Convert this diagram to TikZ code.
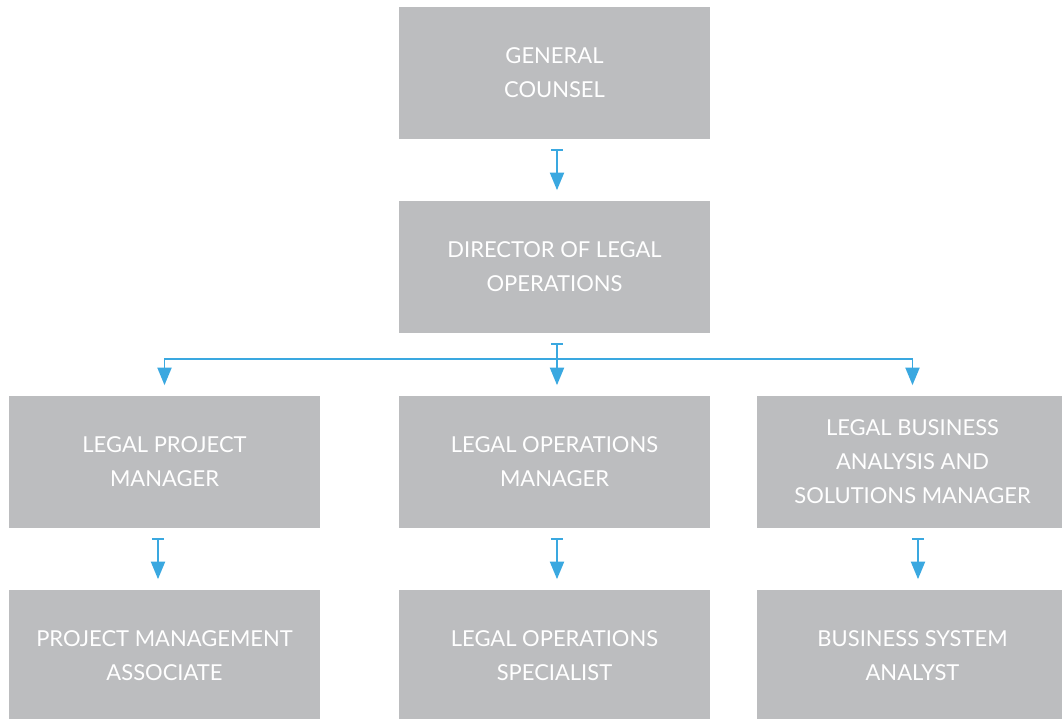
\documentclass[tikz,border=0pt]{standalone}
\usepackage{fontspec}
\setmainfont{Lato}
\usetikzlibrary{arrows.meta, % For the tee and triangle tips
                positioning, % For easy node-relative placements
               }
\definecolor{boxgray}{HTML}{BCBDBF}
\definecolor{linkblue}{HTML}{3AA8E0}

\tikzset{
  box/.style={fill=boxgray, text=white, align=center, minimum width=6.22cm,
              minimum height=2.64cm, inner sep=0pt,
              font=\fontsize{12.5}{19.3}\selectfont},
  link/.style={linkblue, line width=1.1pt,
               {Bar[width=7pt,line width=1.1pt]}-{Triangle[width=8pt,length=10pt]},
               shorten <=0.19cm, shorten >=0.21cm},
  branch/.style={linkblue, line width=1.1pt, -{Triangle[width=8pt,length=10pt]},
                 shorten >=0.21cm},
}

\begin{document}
\begin{tikzpicture}[x=0.02cm, y=-0.02cm]
  \useasboundingbox (0,0) rectangle (1062,719);

  \node[box] (gc) at (554.5,73) {GENERAL\\COUNSEL};
  \node[box] (dir) at (554.5,267) {DIRECTOR OF LEGAL\\OPERATIONS};

  \node[box] (lpm) at (164.5,462) {LEGAL PROJECT\\MANAGER};
  \node[box] (lom) at (554.5,462) {LEGAL OPERATIONS\\MANAGER};
  \node[box] (lbam) at (912.5,462) {LEGAL BUSINESS\\ANALYSIS AND\\SOLUTIONS MANAGER};

  \node[box] (pma) at (164.5,656) {PROJECT MANAGEMENT\\ASSOCIATE};
  \node[box] (los) at (554.5,656) {LEGAL OPERATIONS\\SPECIALIST};
  \node[box] (bsa) at (912.5,656) {BUSINESS SYSTEM\\ANALYST};

  \coordinate (bus) at (557,359);

  \draw[link] ([xshift=0.05cm]gc.south) -- ([xshift=0.05cm]dir.north);
  \draw[link] ([xshift=0.05cm]dir.south) -- ([xshift=0.05cm]lom.north);
  \draw[branch] (bus) -| (lpm.north);
  \draw[branch] (bus) -| (lbam.north);

  \draw[link] ([xshift=-0.13cm]lpm.south) -- ([xshift=-0.13cm]pma.north);
  \draw[link] ([xshift=0.05cm]lom.south) -- ([xshift=0.05cm]los.north);
  \draw[link] ([xshift=0.11cm]lbam.south) -- ([xshift=0.11cm]bsa.north);
\end{tikzpicture}
\end{document}
